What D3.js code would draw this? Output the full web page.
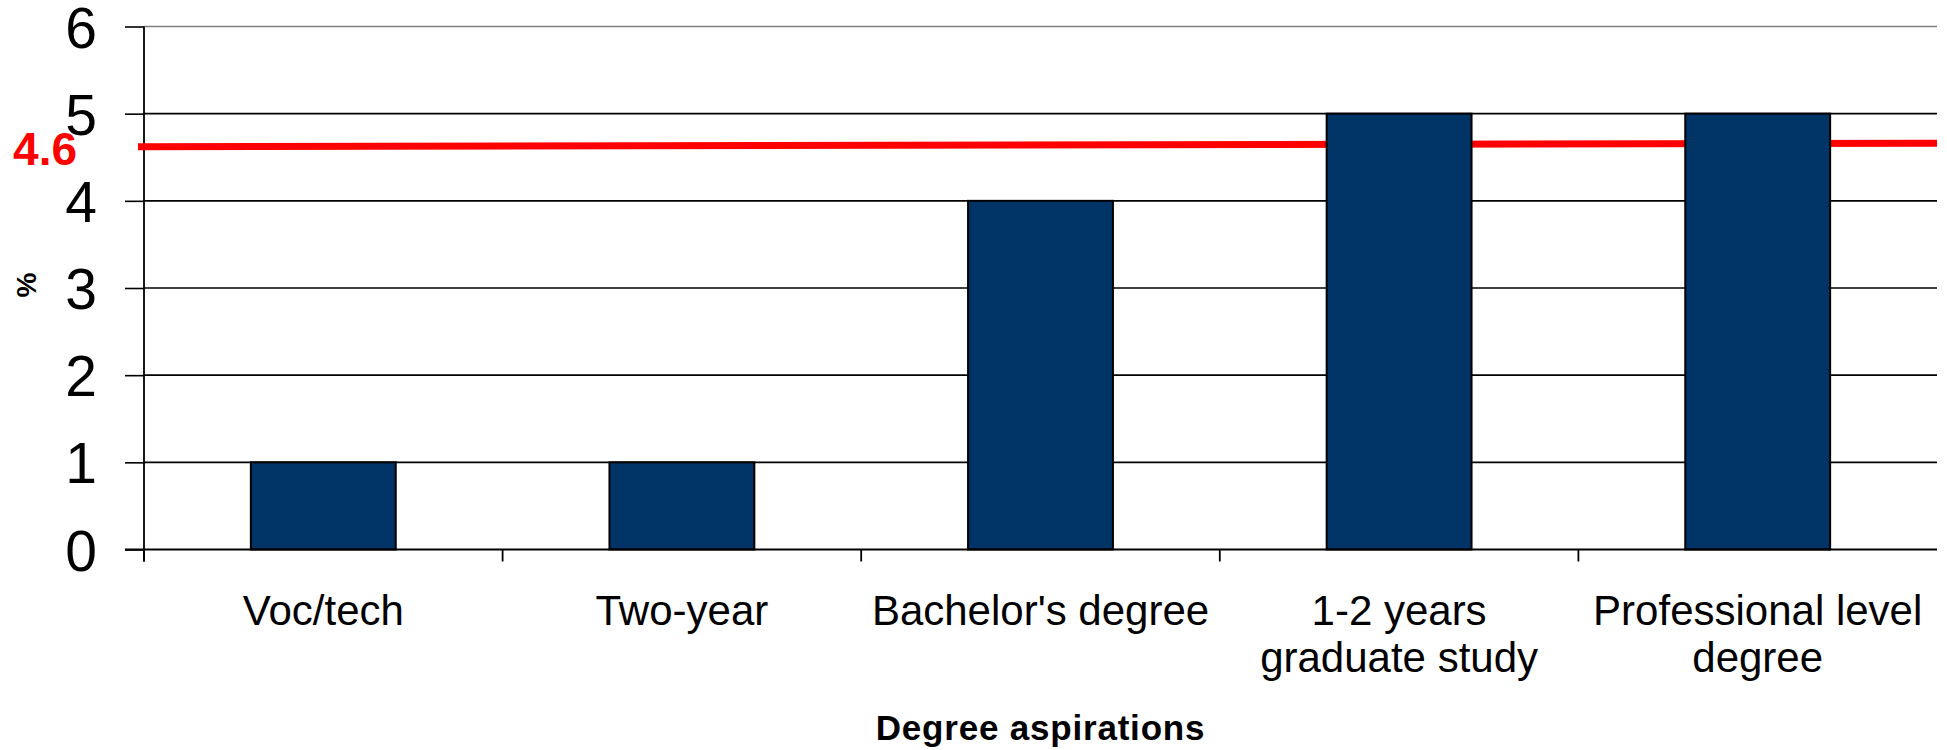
<!DOCTYPE html>
<html>
<head>
<meta charset="utf-8">
<script src="https://cdn.jsdelivr.net/npm/d3@7/dist/d3.min.js"></script>
<style>
  html, body { margin: 0; padding: 0; background: #fff; }
  svg { display: block; font-family: Arial, "Liberation Sans", sans-serif; }
</style>
</head>
<body>
<svg id="chart" width="1947" height="750"></svg>
<script>
// ---- data ----
const categories = [
  ["Voc/tech"],
  ["Two-year"],
  ["Bachelor's degree"],
  ["1-2 years", "graduate study"],
  ["Professional level", "degree"]
];
const values = [1, 1, 4, 5, 5];
const yTicks = [0, 1, 2, 3, 4, 5, 6];
const meanValue = 4.6;
const meanLineEnds = [4.62, 4.66]; // line drawn slightly tilted in the reference
const xTitle = "Degree aspirations";
const yTitle = "%";

(function () {
// ---- layout ----
const svg = d3.select("#chart");
const pLeft = 144, pRight = 1937, pTop = 26.5, pBottom = 549.5;

const x = d3.scaleBand()
  .domain(d3.range(categories.length))
  .range([pLeft, pRight])
  .paddingInner(0.596)
  .paddingOuter(0.298);
const band = d3.scaleBand().domain(d3.range(categories.length)).range([pLeft, pRight]);
const y = d3.scaleLinear().domain([0, 6]).range([pBottom, pTop]);

// gridlines
svg.append("g").selectAll("line")
  .data(yTicks.filter(d => d > 0))
  .join("line")
  .attr("x1", pLeft).attr("x2", pRight)
  .attr("y1", d => y(d)).attr("y2", d => y(d))
  .attr("stroke", d => d === 6 ? "#808080" : "#000")
  .attr("stroke-width", 1.6);

// y axis
const yAxis = d3.axisLeft(y).tickValues(yTicks).tickSize(19).tickPadding(28).tickFormat(d3.format("d"));
const gy = svg.append("g").attr("transform", `translate(${pLeft},0)`).call(yAxis);
gy.select(".domain").remove();
gy.selectAll(".tick line").attr("stroke", "#000").attr("stroke-width", 1.6);
gy.selectAll(".tick text")
  .attr("font-size", 57).attr("fill", "#000")
  .attr("font-family", "Arial, 'Liberation Sans', sans-serif")
  .attr("dy", "0.36em");
svg.append("line")
  .attr("x1", pLeft).attr("x2", pLeft)
  .attr("y1", y(6)).attr("y2", pBottom + 12)
  .attr("stroke", "#000").attr("stroke-width", 1.8);

// mean line (behind bars)
svg.append("line")
  .attr("x1", pLeft - 6).attr("x2", pRight)
  .attr("y1", y(meanLineEnds[0])).attr("y2", y(meanLineEnds[1]))
  .attr("stroke", "#ff0000").attr("stroke-width", 7);

// bars
svg.append("g").selectAll("rect")
  .data(values)
  .join("rect")
  .attr("x", (d, i) => x(i))
  .attr("width", x.bandwidth())
  .attr("y", d => y(d))
  .attr("height", d => y(0) - y(d))
  .attr("fill", "#003366")
  .attr("stroke", "#000")
  .attr("stroke-width", 2);

// x axis
svg.append("line")
  .attr("x1", pLeft - 19).attr("x2", pRight)
  .attr("y1", pBottom).attr("y2", pBottom)
  .attr("stroke", "#000").attr("stroke-width", 2);
svg.append("g").selectAll("line")
  .data(d3.range(categories.length))
  .join("line")
  .attr("x1", i => band(i)).attr("x2", i => band(i))
  .attr("y1", pBottom).attr("y2", pBottom + 12)
  .attr("stroke", "#000").attr("stroke-width", 1.8);

// category labels
const lab = svg.append("g").selectAll("text")
  .data(categories)
  .join("text")
  .attr("x", (d, i) => band(i) + band.bandwidth() / 2)
  .attr("y", 625)
  .attr("text-anchor", "middle")
  .attr("font-size", 42)
  .attr("fill", "#000");
lab.selectAll("tspan")
  .data(d => d)
  .join("tspan")
  .attr("x", function() { return d3.select(this.parentNode).attr("x"); })
  .attr("dy", (d, i) => i === 0 ? 0 : 47)
  .text(d => d);

// mean label
svg.append("text")
  .attr("x", 77).attr("y", y(meanValue) + 16)
  .attr("text-anchor", "end")
  .attr("font-size", 46).attr("font-weight", "bold")
  .attr("fill", "#ff0000")
  .text(meanValue.toFixed(1));

// axis titles
svg.append("text")
  .attr("x", (pLeft + pRight) / 2).attr("y", 740)
  .attr("text-anchor", "middle")
  .attr("font-size", 35).attr("font-weight", "bold")
  .attr("letter-spacing", 0.8)
  .text(xTitle);
svg.append("text")
  .attr("transform", "translate(36,285) rotate(-90)")
  .attr("text-anchor", "middle")
  .attr("font-size", 28).attr("font-weight", "bold")
  .text(yTitle);
})();
</script>
</body>
</html>
